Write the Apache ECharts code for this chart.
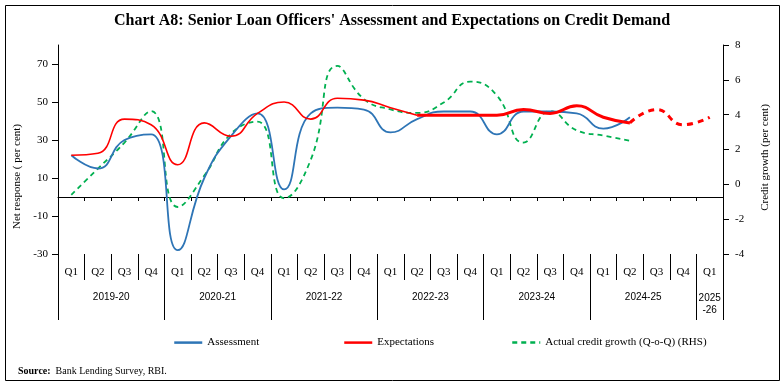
<!DOCTYPE html>
<html>
<head>
<meta charset="utf-8">
<script src="https://cdn.jsdelivr.net/npm/echarts@6/dist/echarts.min.js"></script>
<style>html,body{margin:0;padding:0;background:#fff}#c{width:784px;height:387px}</style>
</head>
<body>
<div id="c"></div>
<script>
const categories = ['Q1','Q2','Q3','Q4','Q1','Q2','Q3','Q4','Q1','Q2','Q3','Q4','Q1','Q2','Q3','Q4','Q1','Q2','Q3','Q4','Q1','Q2','Q3','Q4','Q1'];
const years = ['2019-20','2020-21','2021-22','2022-23','2023-24','2024-25','2025\n-26'];
const leftTicks = [-30,-10,10,30,50,70];
const assessment = [22,15,30,33,-28,10,32,44,4,44,47,46,34,41,45,45,33,45,45,44,36,42];
const expectations = [22,23,41,38,17,39,32,44,50,41,52,51,47,43,43,43,43,46,44,48,42,39,46,38,42];
const creditGrowth = [-0.6,0.9,2.4,4.2,-1.3,0.5,2.9,3.6,-0.8,1.4,6.8,4.9,4.3,4.1,4.7,5.9,5.1,2.4,4.2,3.1,2.8,2.5];

// split expectations into thin, thick and dashed (projected) parts
const expThin = expectations.map((v,i)=> i<=13 ? v : null);
const expThick = expectations.map((v,i)=> (i>=13 && i<=21) ? v : null);
const expProj = expectations.map((v,i)=> i>=21 ? v : null);

const serif = 'Liberation Serif';
const BLUE = '#2E75B6', RED = '#FF0000', GREEN = '#00B050';

const legendBase = {top:332,itemWidth:28,itemHeight:14,lineStyle:{width:2.5},itemStyle:{opacity:0},
  textStyle:{fontFamily:serif,fontSize:11,color:'#000'}};

const chart = echarts.init(document.getElementById('c'), null, {renderer:'canvas'});
chart.setOption({
  animation:false,
  backgroundColor:'#fff',
  title:[
    {text:"Chart A8: Senior Loan Officers' Assessment and Expectations on Credit Demand",
     left:'center', top:8, textStyle:{fontFamily:serif,fontSize:16,fontWeight:'bold',color:'#000'}},
    {text:'{b|Source:}  Bank Lending Survey, RBI.', left:13, top:361,
     textStyle:{fontFamily:serif,fontSize:10,fontWeight:'normal',color:'#000',
       rich:{b:{fontFamily:serif,fontSize:10,fontWeight:'bold',color:'#000'}}}}
  ],
  graphic:[{type:'rect',shape:{x:5.5,y:5.5,width:774,height:375},style:{fill:'none',stroke:'#000',lineWidth:1},silent:true}],
  legend:[
    Object.assign({data:['Assessment'],left:168}, legendBase),
    Object.assign({data:['Expectations'],left:338}, legendBase),
    Object.assign({data:['Actual credit growth (Q-o-Q) (RHS)'],left:506}, legendBase)
  ],
  grid:{left:58,right:61,top:45,bottom:133,containLabel:false},
  xAxis:[
    {type:'category',data:categories,position:'bottom',boundaryGap:true,
     axisLine:{show:false,onZero:false},
     axisTick:{show:true,interval:0,length:26,lineStyle:{color:'#000',width:1}},
     axisLabel:{interval:0,margin:13,fontFamily:serif,fontSize:11,color:'#000'}},
    {type:'category',data:categories,position:'bottom',boundaryGap:true,
     axisLine:{show:false,onZero:false},
     axisTick:{show:true,interval:3,length:66,lineStyle:{color:'#000',width:1}},
     axisLabel:{interval:0,margin:38,color:'#000',fontFamily:'Liberation Sans',fontSize:10,
       formatter:function(v,idx){
         if(idx===24){const p=years[6].split('\n');return '{z|'+p[0]+'}\n{z|'+p[1]+'}';}
         if(idx%4===1){return '{y|'+years[Math.floor(idx/4)]+'}';}
         return '';
       },
       rich:{y:{fontFamily:'Liberation Sans',fontSize:10,color:'#000',padding:[0,0,0,26.6]},
             z:{fontFamily:'Liberation Sans',fontSize:10,color:'#000',lineHeight:12}}}},
    {type:'category',data:categories,position:'bottom',boundaryGap:true,
     axisLine:{show:true,onZero:true,onZeroAxisIndex:0,lineStyle:{color:'#000',width:1.2}},
     axisTick:{show:true,interval:0,length:4,lineStyle:{color:'#000'}},
     axisLabel:{show:false}}
  ],
  yAxis:[
    {type:'value',min:-30,max:80,interval:20,position:'left',
     name:'Net response ( per cent)',nameLocation:'middle',nameGap:34,
     nameTextStyle:{fontFamily:serif,fontSize:11,color:'#000',padding:[0,54,0,0]},
     axisLine:{show:true,lineStyle:{color:'#000',width:1}},
     axisTick:{show:true,length:6,customValues:leftTicks,lineStyle:{color:'#000'}},
     axisLabel:{customValues:leftTicks,margin:10,fontFamily:serif,fontSize:11,color:'#000'},
     splitLine:{show:false}},
    {type:'value',min:-4,max:8,interval:2,position:'right',
     name:'Credit growth (per cent)',nameLocation:'middle',nameGap:37,
     nameTextStyle:{fontFamily:serif,fontSize:11,color:'#000',padding:[0,16,0,0]},
     axisLine:{show:true,lineStyle:{color:'#000',width:1}},
     axisTick:{show:true,length:6,lineStyle:{color:'#000'}},
     axisLabel:{margin:12,fontFamily:serif,fontSize:11,color:'#000'},
     splitLine:{show:false}}
  ],
  series:[
    {name:'Assessment',type:'line',data:assessment,smooth:0.5,symbol:'none',
     lineStyle:{color:BLUE,width:1.8},itemStyle:{color:BLUE},z:3},
    {name:'Expectations',type:'line',data:expThin,smooth:0.5,symbol:'none',
     lineStyle:{color:RED,width:1.6},itemStyle:{color:RED},z:4},
    {name:'Expectations',type:'line',data:expThick,smooth:0.5,symbol:'none',
     lineStyle:{color:RED,width:3},itemStyle:{color:RED},z:4},
    {name:'Expectations',type:'line',data:expProj,smooth:0.5,symbol:'none',
     lineStyle:{color:RED,width:3,type:[6,5]},itemStyle:{color:RED},z:4},
    {name:'Actual credit growth (Q-o-Q) (RHS)',type:'line',yAxisIndex:1,data:creditGrowth,smooth:0.5,symbol:'none',
     lineStyle:{color:GREEN,width:1.8,type:[5,4]},itemStyle:{color:GREEN},z:2}
  ]
});
</script>
</body>
</html>
